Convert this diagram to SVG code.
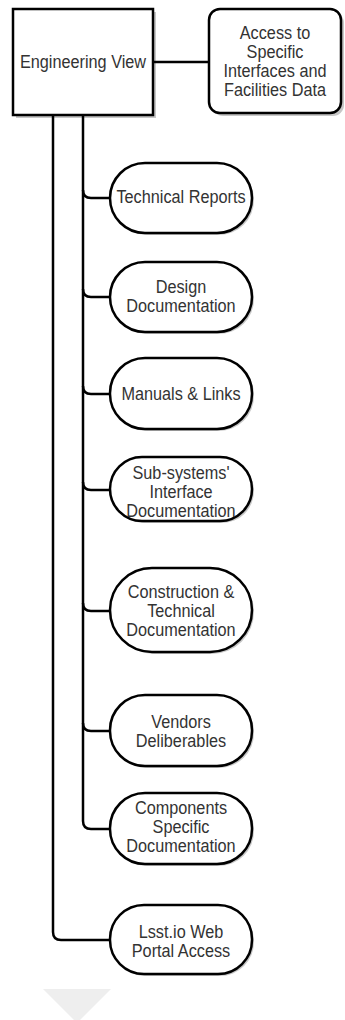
<svg xmlns="http://www.w3.org/2000/svg" width="345" height="1020" viewBox="0 0 345 1020">
  <defs>
    <style>
      .box { fill: #ffffff; stroke: #000000; stroke-width: 2.5; }
      .shadow { fill: #000000; opacity: 0.22; }
      .lbl { font-family: "Liberation Sans", Arial, sans-serif; font-size: 17.5px; fill: #333333; text-anchor: middle; }
      .wire { fill: none; stroke: #000000; stroke-width: 2.5; }
    </style>
  </defs>
  <rect width="345" height="1020" fill="#ffffff"/>

  <!-- connectors -->
  <g id="connectors">
    <path class="wire" d="M153 62 H209"/>
    <!-- inner trunk -->
    <path class="wire" d="M83 115 V190 Q83 198 91 198 H110"/>
    <path class="wire" d="M83 190 V289 Q83 297 91 297 H110"/>
    <path class="wire" d="M83 289 V386 Q83 394 91 394 H110"/>
    <path class="wire" d="M83 386 V482 Q83 490 91 490 H110"/>
    <path class="wire" d="M83 482 V603 Q83 611 91 611 H110"/>
    <path class="wire" d="M83 603 V723 Q83 731 91 731 H110"/>
    <path class="wire" d="M83 723 V821 Q83 829 91 829 H110"/>
    <!-- outer trunk -->
    <path class="wire" d="M53 115 V932 Q53 940 61 940 H110"/>
  </g>

  <g id="engineering-view">
    <rect class="shadow" x="16" y="12" width="140" height="106"/>
    <rect class="box" x="13" y="9" width="140" height="106"/>
    <text class="lbl" transform="translate(83 68.3) scale(0.93 1)">Engineering View</text>
  </g>

  <g id="access-data">
    <rect class="shadow" x="212" y="12" width="132" height="104" rx="11"/>
    <rect class="box" x="209" y="9" width="132" height="104" rx="11"/>
    <text class="lbl" transform="translate(275 38.5) scale(0.93 1)">Access to</text>
    <text class="lbl" transform="translate(275 57.8) scale(0.93 1)">Specific</text>
    <text class="lbl" transform="translate(275 77.1) scale(0.93 1)">Interfaces and</text>
    <text class="lbl" transform="translate(275 96.4) scale(0.93 1)">Facilities Data</text>
  </g>

  <g id="technical-reports">
    <rect class="shadow" x="112" y="165" width="142" height="70" rx="35"/>
    <rect class="box" x="110" y="163" width="142" height="70" rx="35"/>
    <text class="lbl" transform="translate(181 202.8) scale(0.93 1)">Technical Reports</text>
  </g>

  <g id="design-documentation">
    <rect class="shadow" x="112" y="264" width="142" height="70" rx="35"/>
    <rect class="box" x="110" y="262" width="142" height="70" rx="35"/>
    <text class="lbl" transform="translate(181 292.5) scale(0.93 1)">Design</text>
    <text class="lbl" transform="translate(181 311.8) scale(0.93 1)">Documentation</text>
  </g>

  <g id="manuals-links">
    <rect class="shadow" x="112" y="360" width="142" height="71" rx="35"/>
    <rect class="box" x="110" y="358" width="142" height="71" rx="35"/>
    <text class="lbl" transform="translate(181 399.5) scale(0.93 1)">Manuals &amp; Links</text>
  </g>

  <g id="subsystems-interface">
    <rect class="shadow" x="112" y="459" width="142" height="64" rx="32"/>
    <rect class="box" x="110" y="457" width="142" height="64" rx="32"/>
    <text class="lbl" transform="translate(181 478.5) scale(0.93 1)">Sub-systems'</text>
    <text class="lbl" transform="translate(181 497.8) scale(0.93 1)">Interface</text>
    <text class="lbl" transform="translate(181 517.1) scale(0.93 1)">Documentation</text>
  </g>

  <g id="construction-technical">
    <rect class="shadow" x="112" y="570" width="142" height="84" rx="42"/>
    <rect class="box" x="110" y="568" width="142" height="84" rx="42"/>
    <text class="lbl" transform="translate(181 597.5) scale(0.93 1)">Construction &amp;</text>
    <text class="lbl" transform="translate(181 616.8) scale(0.93 1)">Technical</text>
    <text class="lbl" transform="translate(181 636.1) scale(0.93 1)">Documentation</text>
  </g>

  <g id="vendors-deliberables">
    <rect class="shadow" x="112" y="697" width="142" height="71" rx="35"/>
    <rect class="box" x="110" y="695" width="142" height="71" rx="35"/>
    <text class="lbl" transform="translate(181 727.5) scale(0.93 1)">Vendors</text>
    <text class="lbl" transform="translate(181 746.8) scale(0.93 1)">Deliberables</text>
  </g>

  <g id="components-specific">
    <rect class="shadow" x="112" y="795" width="142" height="71" rx="35"/>
    <rect class="box" x="110" y="793" width="142" height="71" rx="35"/>
    <text class="lbl" transform="translate(181 813.5) scale(0.93 1)">Components</text>
    <text class="lbl" transform="translate(181 832.8) scale(0.93 1)">Specific</text>
    <text class="lbl" transform="translate(181 852.1) scale(0.93 1)">Documentation</text>
  </g>

  <g id="lsst-portal">
    <rect class="shadow" x="112" y="907" width="142" height="69" rx="34"/>
    <rect class="box" x="110" y="905" width="142" height="69" rx="34"/>
    <text class="lbl" transform="translate(181 937.5) scale(0.93 1)">Lsst.io Web</text>
    <text class="lbl" transform="translate(181 956.8) scale(0.93 1)">Portal Access</text>
  </g>

  <!-- pale marker at the foot of the page -->
  <polygon points="43,989 111,989 77,1023" fill="#eeeeee"/>
</svg>
